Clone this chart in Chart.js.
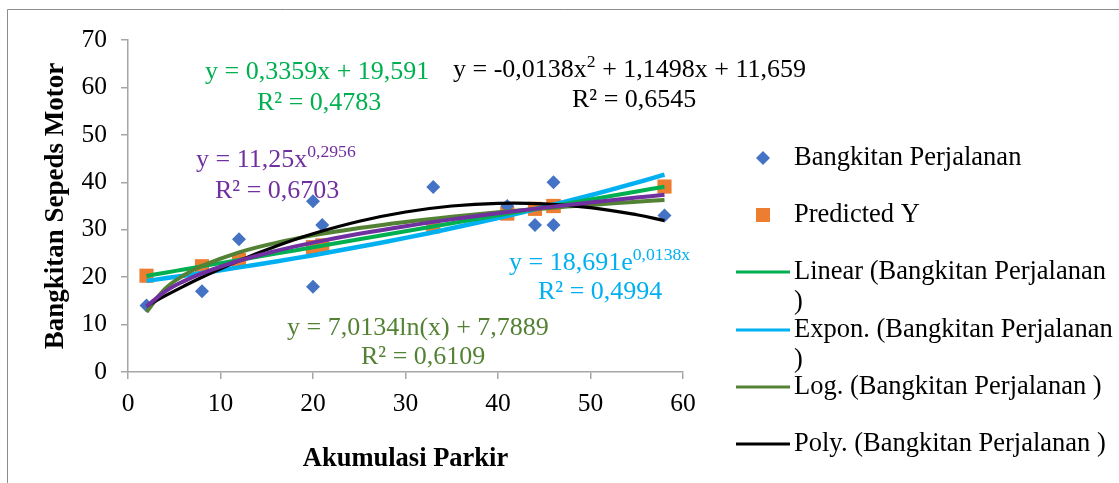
<!DOCTYPE html>
<html>
<head>
<meta charset="utf-8">
<script src="https://cdn.jsdelivr.net/npm/chart.js@4.4.0/dist/chart.umd.min.js"></script>
<style>
  body { margin: 0; background: #fff; }
  #wrap { width: 1119px; height: 483px; }
</style>
</head>
<body>
<div id="wrap"><canvas id="chart" width="1119" height="483"></canvas></div>
<script>
// observed points
const obsX = [2, 8, 12, 20, 20, 21, 33, 41, 44, 46, 46, 58];
const obsY = [14, 17, 28, 36, 18, 31, 39, 35, 31, 31, 40, 33];
const predY = [20.3, 22.3, 23.6, 26.3, 26.3, 26.7, 30.7, 33.4, 34.4, 35.0, 35.0, 39.1];

// trendline samples
const trendX = [2, 4, 6, 8, 12, 16, 20, 25, 30, 35, 40, 45, 50, 55, 58];
const linY  = [20.26, 20.93, 21.61, 22.28, 23.62, 24.96, 26.31, 27.99, 29.67, 31.35, 33.03, 34.71, 36.39, 38.07, 39.07];
const expY  = [19.21, 19.75, 20.30, 20.87, 22.06, 23.31, 24.63, 26.39, 28.28, 30.30, 32.46, 34.78, 37.26, 39.93, 41.61];
const logY  = [12.65, 17.51, 20.36, 22.37, 25.22, 27.23, 28.80, 30.36, 31.64, 32.72, 33.66, 34.49, 35.23, 35.89, 36.27];
const powY  = [13.81, 16.95, 19.11, 20.80, 23.45, 25.53, 27.27, 29.13, 30.75, 32.18, 33.47, 34.66, 35.76, 36.78, 37.36];
const polyY = [13.90, 16.04, 18.06, 19.97, 23.47, 26.52, 29.14, 31.78, 33.73, 35.00, 35.57, 35.46, 34.65, 33.15, 31.92];

const legendNames = ['Bangkitan Perjalanan', 'Predicted Y', 'Linear (Bangkitan Perjalanan', 'Expon. (Bangkitan Perjalanan', 'Log. (Bangkitan Perjalanan )', 'Poly. (Bangkitan Perjalanan )'];

const FONT = '"Liberation Serif", "Times New Roman", serif';

function pts(xs, ys) {
  return xs.map((x, i) => ({ x: x, y: ys[i] }));
}

function trend(label, ys, color, width, order) {
  return {
    label: label,
    data: pts(trendX, ys),
    showLine: true,
    borderColor: color,
    borderWidth: width,
    pointRadius: 0,
    tension: 0.4,
    fill: false,
    order: order
  };
}

// text with superscript pieces: parts = [[text, isSup], ...]
function rich(ctx, parts, x, y, size, color) {
  ctx.fillStyle = color;
  ctx.textBaseline = 'middle';
  ctx.textAlign = 'left';
  let cx = x;
  parts.forEach(p => {
    const s = p[1] ? size * 0.68 : size;
    ctx.font = s + 'px ' + FONT;
    ctx.fillText(p[0], cx, p[1] ? y - size * 0.28 : y);
    cx += ctx.measureText(p[0]).width;
  });
}

const extras = {
  id: 'extras',
  afterDraw(chart) {
    const ctx = chart.ctx;
    ctx.save();
    // outer frame
    ctx.strokeStyle = '#8c8c8c';
    ctx.lineWidth = 1;
    ctx.beginPath();
    ctx.moveTo(7.5, 483);
    ctx.lineTo(7.5, 9.5);
    ctx.lineTo(1119, 9.5);
    ctx.stroke();

    const fs = 26;
    // equations
    rich(ctx, [['y = 0,3359x + 19,591', false]], 205, 72, fs, '#00B050');
    rich(ctx, [['R² = 0,4783', false]], 257, 103, fs, '#00B050');
    rich(ctx, [['y = -0,0138x', false], ['2', true], [' + 1,1498x + 11,659', false]], 453, 70, fs, '#000000');
    rich(ctx, [['R² = 0,6545', false]], 572, 100, fs, '#000000');
    rich(ctx, [['y = 11,25x', false], ['0,2956', true]], 196, 160, fs, '#7030A0');
    rich(ctx, [['R² = 0,6703', false]], 215, 191, fs, '#7030A0');
    rich(ctx, [['y = 18,691e', false], ['0,0138x', true]], 509, 263, fs, '#00B0F0');
    rich(ctx, [['R² = 0,4994', false]], 538, 292, fs, '#00B0F0');
    rich(ctx, [['y = 7,0134ln(x) + 7,7889', false]], 287, 328, fs, '#548235');
    rich(ctx, [['R² = 0,6109', false]], 361, 357, fs, '#548235');

    // legend
    const lf = 26.5;
    const tx = 794;
    ctx.fillStyle = '#4472C4';
    ctx.beginPath();
    ctx.moveTo(763, 151); ctx.lineTo(770, 158); ctx.lineTo(763, 165); ctx.lineTo(756, 158);
    ctx.closePath(); ctx.fill();
    ctx.fillStyle = '#ED7D31';
    ctx.fillRect(756, 208, 14, 14);
    rich(ctx, [[legendNames[0], false]], tx, 158, lf, '#000');
    rich(ctx, [[legendNames[1], false]], tx, 215, lf, '#000');

    const lines = [
      [legendNames[2], '#00B050', 272, true],
      [legendNames[3], '#00B0F0', 330, true],
      [legendNames[4], '#548235', 387, false],
      [legendNames[5], '#000000', 444, false]
    ];
    lines.forEach(l => {
      ctx.strokeStyle = l[1];
      ctx.lineWidth = 3;
      ctx.beginPath();
      ctx.moveTo(736, l[2]);
      ctx.lineTo(790, l[2]);
      ctx.stroke();
      rich(ctx, [[l[0], false]], tx, l[2], lf, '#000');
      if (l[3]) rich(ctx, [[')', false]], tx, l[2] + 30, lf, '#000');
    });
    ctx.restore();
  }
};

new Chart(document.getElementById('chart'), {
  type: 'scatter',
  data: {
    datasets: [
      {
        label: legendNames[0],
        data: pts(obsX, obsY),
        pointStyle: 'rectRot',
        pointRadius: 7,
        pointHoverRadius: 7,
        backgroundColor: '#4472C4',
        borderColor: '#4472C4',
        borderWidth: 0,
        order: 8
      },
      {
        label: legendNames[1],
        data: pts(obsX, predY),
        pointStyle: 'rect',
        pointRadius: 10,
        pointHoverRadius: 10,
        backgroundColor: '#ED7D31',
        borderColor: '#ED7D31',
        borderWidth: 0,
        order: 9
      },
      trend('Linear', linY, '#00B050', 4, 5),
      trend('Expon.', expY, '#00B0F0', 4.5, 6),
      trend('Log.', logY, '#548235', 4, 4),
      trend('Power', powY, '#7030A0', 4, 2),
      trend('Poly.', polyY, '#000000', 3.2, 3)
    ]
  },
  options: {
    responsive: false,
    animation: false,
    layout: { padding: { left: 40, right: 436, top: 40, bottom: 8 } },
    plugins: {
      legend: { display: false },
      tooltip: { enabled: false }
    },
    scales: {
      x: {
        type: 'linear',
        min: 0,
        max: 60,
        afterFit: s => { s.height = 103; },
        ticks: { stepSize: 10, color: '#000', padding: 10, font: { family: FONT, size: 25.5 } },
        grid: { drawOnChartArea: false, tickLength: 7, color: '#a6a6a6', lineWidth: 1.5 },
        border: { color: '#a6a6a6', width: 1.5 },
        title: { display: true, text: 'Akumulasi Parkir', color: '#000', padding: 0, font: { family: FONT, size: 26.5, weight: 'bold' } }
      },
      y: {
        min: 0,
        max: 70,
        afterFit: s => { s.width = 88; },
        ticks: { stepSize: 10, color: '#000', padding: 14, font: { family: FONT, size: 25.5 } },
        grid: { drawOnChartArea: false, tickLength: 7, color: '#a6a6a6', lineWidth: 1.5 },
        border: { color: '#a6a6a6', width: 1.5 },
        title: { display: true, text: 'Bangkitan Sepeds Motor', color: '#000', padding: 0, font: { family: FONT, size: 27, weight: 'bold' } }
      }
    }
  },
  plugins: [extras]
});
</script>
</body>
</html>
